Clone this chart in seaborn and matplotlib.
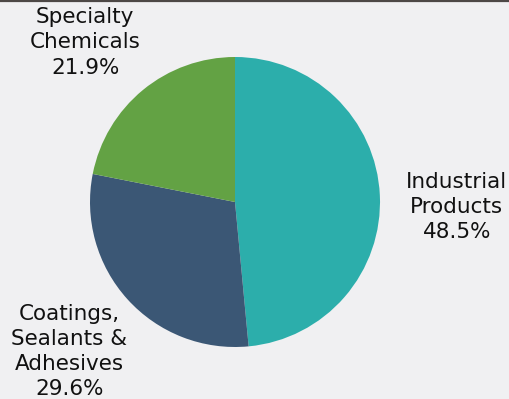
import numpy as np
import matplotlib
matplotlib.use("Agg")
import matplotlib.pyplot as plt
import seaborn as sns

# Segment shares (percent), drawn clockwise from 12 o'clock
segments = ["Industrial\nProducts", "Coatings,\nSealants &\nAdhesives", "Specialty\nChemicals"]
shares = [48.5, 29.6, 21.9]
colors = ["#2caeab", "#3b5775", "#63a244"]

sns.set_theme(style="white")
plt.rcParams["font.family"] = ["DejaVu Sans"]

bg = "#f0f0f2"
fig = plt.figure(figsize=(5.10, 3.99), dpi=100, facecolor=bg)
ax = fig.add_axes([0, 0, 1, 1])
ax.set_facecolor(bg)

wedges, texts = ax.pie(
    shares,
    colors=colors,
    startangle=90,
    counterclock=False,
    radius=1.0,
    wedgeprops=dict(linewidth=0),
)

# Label each wedge with its name and share, placed outside the rim
label_dist = [1.53, 1.54, 1.51]
label_shift = [-4.0, 0.0, 3.8]  # small angular nudges, degrees
for w, name, val, d, s in zip(wedges, segments, shares, label_dist, label_shift):
    mid = np.deg2rad((w.theta1 + w.theta2) / 2 + s)
    ax.text(d * np.cos(mid), d * np.sin(mid), f"{name}\n{val:.1f}%",
            ha="center", va="center", fontsize=15.5, color="#111111",
            linespacing=1.32)

# Map data units so the pie sits left of centre with room for labels
ax.set_xlim(-235 / 145, (510 - 235) / 145)
ax.set_ylim(-197 / 145, 202 / 145)
ax.set_aspect("auto")
ax.axis("off")

# Thin dark rule along the top edge
fig.add_artist(plt.Line2D([0, 1], [0.997, 0.997], color="#4d4846",
                          linewidth=1.6, transform=fig.transFigure))

fig.savefig("out.png", dpi=100, facecolor=bg)
